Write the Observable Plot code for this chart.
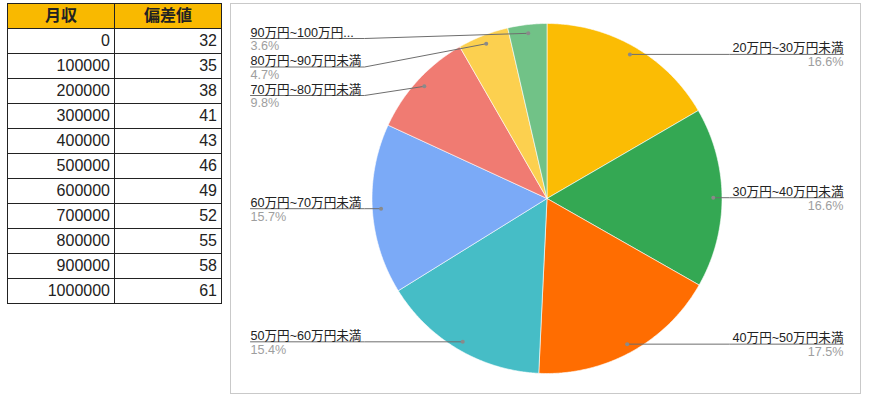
<!DOCTYPE html>
<html><head><meta charset="utf-8">
<script src="https://cdn.jsdelivr.net/npm/d3@7"></script>
<script src="https://cdn.jsdelivr.net/npm/@observablehq/plot@0.6"></script>
<style>
  html,body{margin:0;padding:0;background:#fff;width:870px;height:401px;overflow:hidden;}
  body{font-family:"Liberation Sans",Arial,"Noto Sans CJK JP",sans-serif;position:relative;}
  #tbl{position:absolute;left:7px;top:3px;}
  #tbl table{border-collapse:collapse;font-size:16px;color:#222;}
  #tbl td,#tbl th{border:1px solid #222;height:24px;padding:0 4px;line-height:24px;box-sizing:border-box;}
  #tbl th{background:#f9b900;font-weight:bold;text-align:center;}
  #tbl td{text-align:right;}
  #chart{position:absolute;left:230px;top:3px;border:1px solid #c9c9c9;width:629px;height:389px;}
</style>
</head><body>
<div id="tbl"></div>
<div id="chart"></div>
<script>
// ---- data ----
const tableHeaders = ["月収", "偏差値"];
const incomes = [0, 100000, 200000, 300000, 400000, 500000, 600000, 700000, 800000, 900000, 1000000];
const deviations = [32, 35, 38, 41, 43, 46, 49, 52, 55, 58, 61];

const categories = ["20万円~30万円未満", "30万円~40万円未満", "40万円~50万円未満", "50万円~60万円未満",
                    "60万円~70万円未満", "70万円~80万円未満", "80万円~90万円未満", "90万円~100万円..."];
const shares = [16.6, 16.6, 17.5, 15.4, 15.7, 9.8, 4.7, 3.6];
const sliceColors = ["#fbbc04", "#34a853", "#ff6d01", "#46bdc6", "#7baaf7", "#f07b72", "#fcd04f", "#71c287"];

// ---- table ----
{
  const colW = [107, 107];
  let html = "<table><tr>" + tableHeaders.map((h, i) => `<th style="width:${colW[i]}px">${h}</th>`).join("") + "</tr>";
  incomes.forEach((v, i) => { html += `<tr><td>${v}</td><td>${deviations[i]}</td></tr>`; });
  html += "</table>";
  document.getElementById("tbl").innerHTML = html;
}

// ---- pie layout ----
const W = 629, H = 389, cx = 315.5, cy = 194, R = 175;
const total = d3.sum(shares);
const anchorR = 0.95;
const slices = [];
let acc = 0;
categories.forEach((c, i) => {
  const a0 = acc / total * 2 * Math.PI;
  acc += shares[i];
  const a1 = acc / total * 2 * Math.PI;
  slices.push({cat: c, share: shares[i], a0, a1, mid: (a0 + a1) / 2});
});

const slicePts = [];
for (const s of slices) {
  slicePts.push({cat: s.cat, x: 0, y: 0});
  const n = Math.max(2, Math.ceil((s.a1 - s.a0) / (Math.PI / 360)));
  for (let k = 0; k <= n; k++) {
    const a = s.a0 + (s.a1 - s.a0) * k / n;
    slicePts.push({cat: s.cat, x: Math.sin(a), y: Math.cos(a)});
  }
  slicePts.push({cat: s.cat, x: 0, y: 0});
}

// label placement (pixel space for spacing, then back to data units)
const toDataX = px => (px - cx) / R;
const toDataY = py => (cy - py) / R;
const toPxY = y => cy - y * R;
const leftX = 19, rightX = 612, segLen = 114, spacing = 28.5, topMin = 34;
const anchors = slices.map(s => ({cat: s.cat, share: s.share, ax: anchorR * Math.sin(s.mid), ay: anchorR * Math.cos(s.mid), left: s.mid > Math.PI}));
for (const side of [true, false]) {
  const group = anchors.filter(a => a.left === side).sort((a, b) => toPxY(a.ay) - toPxY(b.ay));
  let prev = -Infinity;
  for (const a of group) {
    const py = Math.max(toPxY(a.ay), prev + spacing, topMin);
    a.ly = toDataY(py);
    prev = py;
    a.lx = toDataX(side ? leftX : rightX);
    a.lx2 = toDataX(side ? leftX + segLen : rightX - segLen);
  }
}
const leaderPts = anchors.flatMap(a => [
  {cat: a.cat, x: a.lx, y: a.ly},
  {cat: a.cat, x: a.lx2, y: a.ly},
  {cat: a.cat, x: a.ax, y: a.ay}
]);
const leftLabels = anchors.filter(a => a.left);
const rightLabels = anchors.filter(a => !a.left);
const fmtPct = d => d.share.toFixed(1) + "%";

const font = '"Liberation Sans",Arial,"Noto Sans CJK JP",sans-serif';
const fs = 12.6;
const plot = Plot.plot({
  width: W, height: H, margin: 0,
  x: {domain: [toDataX(0), toDataX(W)], range: [0, W], axis: null},
  y: {domain: [toDataY(H), toDataY(0)], range: [H, 0], axis: null},
  color: {domain: categories, range: sliceColors},
  style: {fontFamily: font, background: "white"},
  marks: [
    Plot.line(slicePts, {x: "x", y: "y", z: "cat", fill: "cat", stroke: "white", strokeWidth: 0.6, curve: "linear"}),
    Plot.line(leaderPts, {x: "x", y: "y", z: "cat", stroke: "#6e6e6e", strokeWidth: 1, curve: "linear"}),
    Plot.dot(anchors, {x: "ax", y: "ay", r: 2, fill: "#8a8a8a", stroke: "none"}),
    Plot.text(leftLabels, {x: "lx", y: "ly", text: "cat", textAnchor: "start", lineAnchor: "bottom", dy: -2, fontSize: fs, fill: "#222"}),
    Plot.text(leftLabels, {x: "lx", y: "ly", text: fmtPct, textAnchor: "start", lineAnchor: "top", dy: 3, fontSize: fs, fill: "#9e9e9e"}),
    Plot.text(rightLabels, {x: "lx", y: "ly", text: "cat", textAnchor: "end", lineAnchor: "bottom", dy: -2, fontSize: fs, fill: "#222"}),
    Plot.text(rightLabels, {x: "lx", y: "ly", text: fmtPct, textAnchor: "end", lineAnchor: "top", dy: 3, fontSize: fs, fill: "#9e9e9e"})
  ]
});
document.getElementById("chart").appendChild(plot);
</script>
</body></html>
